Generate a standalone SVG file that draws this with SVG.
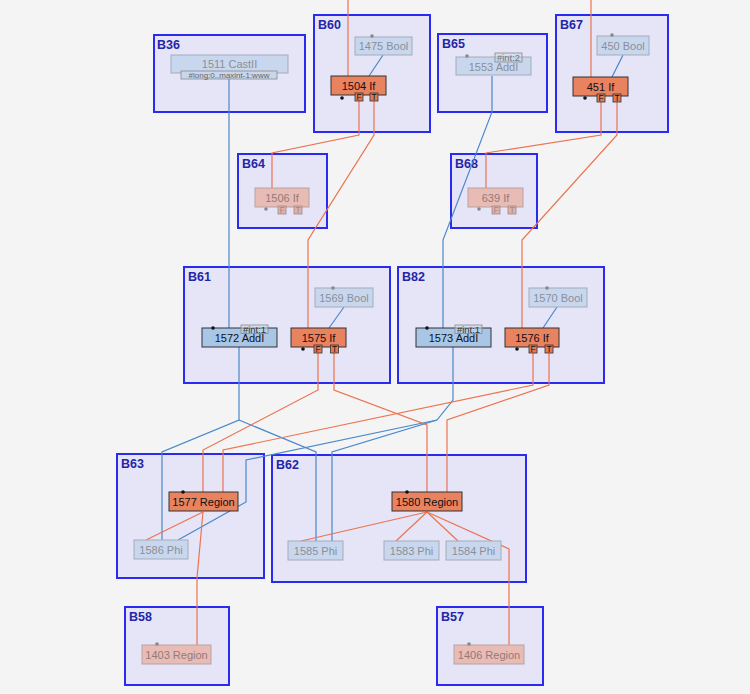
<svg xmlns="http://www.w3.org/2000/svg" width="750" height="694" viewBox="0 0 750 694">
<style>
.blk{fill:#e5e5f7;stroke:#2a2af0;stroke-width:2}
.bl{font-family:"Liberation Sans",Arial,sans-serif;font-weight:bold;font-size:12.5px;fill:#2525a8}
.t{font-family:"Liberation Sans",Arial,sans-serif;font-size:11px;text-anchor:middle}
.on{fill:#e9825f;stroke:#333;stroke-width:1}
.ab{fill:#a9c6e6;stroke:#333;stroke-width:1}
.fb{fill:#c9d7ee;stroke:#a3abba;stroke-width:1}
.fo{fill:#e8bcb5;stroke:#b5a3a3;stroke-width:1}
.dk{fill:#111}
.gy{fill:#888}
.ft{fill:#8a8f99}
.fto{fill:#927a78}
.p{fill:#e07a55;stroke:#333;stroke-width:0.8}
.pf{fill:#e2b0a6;stroke:#a08888;stroke-width:0.8}
.pt{font-family:"Liberation Sans",Arial,sans-serif;font-size:8.5px;text-anchor:middle;fill:#111}
.ptf{font-family:"Liberation Sans",Arial,sans-serif;font-size:8.5px;text-anchor:middle;fill:#9a8a88}
.tag{fill:#c9d7ee;stroke:#888;stroke-width:0.8}
.tt{font-family:"Liberation Sans",Arial,sans-serif;font-size:8px;text-anchor:middle;fill:#666}
.tg{font-family:"Liberation Sans",Arial,sans-serif;font-size:9.5px;text-anchor:middle}
.eo{fill:none;stroke:#ec7350;stroke-width:1.2}
.eb{fill:none;stroke:#4a88cc;stroke-width:1.2}
</style>
<rect width="750" height="694" fill="#f4f4f4"/>

<g id="B36"><rect class="blk" x="154" y="35" width="151" height="77"/><text class="bl" x="157" y="49">B36</text></g>
<g id="B60"><rect class="blk" x="314" y="15" width="116" height="117"/><text class="bl" x="318" y="29">B60</text></g>
<g id="B65"><rect class="blk" x="438" y="34" width="109" height="78"/><text class="bl" x="442" y="48">B65</text></g>
<g id="B67"><rect class="blk" x="556" y="15" width="112" height="117"/><text class="bl" x="560" y="29">B67</text></g>
<g id="B64"><rect class="blk" x="238" y="154" width="89" height="74"/><text class="bl" x="242" y="168">B64</text></g>
<g id="B68"><rect class="blk" x="451" y="154" width="86" height="74"/><text class="bl" x="455" y="168">B68</text></g>
<g id="B61"><rect class="blk" x="184" y="267" width="206" height="116"/><text class="bl" x="188" y="281">B61</text></g>
<g id="B82"><rect class="blk" x="398" y="267" width="206" height="116"/><text class="bl" x="402" y="281">B82</text></g>
<g id="B63"><rect class="blk" x="117" y="454" width="147" height="124"/><text class="bl" x="121" y="468">B63</text></g>
<g id="B62"><rect class="blk" x="272" y="455" width="254" height="127"/><text class="bl" x="276" y="469">B62</text></g>
<g id="B58"><rect class="blk" x="125" y="607" width="104" height="78"/><text class="bl" x="129" y="621">B58</text></g>
<g id="B57"><rect class="blk" x="437" y="607" width="106" height="78"/><text class="bl" x="441" y="621">B57</text></g>

<g id="connectors">
<polyline class="eo" points="348,0 348,76"/>
<polyline class="eo" points="591,0 591,77"/>
<line class="eb" x1="383" y1="55" x2="369" y2="76"/>
<line class="eb" x1="623" y1="55" x2="612" y2="77"/>
<polyline class="eo" points="359,101 359,135 272,153 272,188"/>
<polyline class="eo" points="374,101 374,135 308,240 308,328"/>
<polyline class="eo" points="601,102 601,135 486,153 486,188"/>
<polyline class="eo" points="617,102 617,135 522,240 522,328"/>
<polyline class="eb" points="229,73 229,328"/>
<polyline class="eb" points="492,76 492,112 443,240 443,328"/>
<line class="eb" x1="344" y1="307" x2="329" y2="328"/>
<line class="eb" x1="557" y1="307" x2="543" y2="328"/>
<polyline class="eb" points="239,347 239,420 162,452 162,540"/>
<polyline class="eb" points="239,420 316,452 316,541"/>
<polyline class="eb" points="453,347 453,400 437,420 332,452 332,541"/>
<polyline class="eb" points="437,420 246,460 246,502 178,540"/>
<polyline class="eo" points="318,353 318,390 203,450 203,492"/>
<polyline class="eo" points="334,353 334,390 427,425 427,492"/>
<polyline class="eo" points="533,353 533,385 223,450 223,492"/>
<polyline class="eo" points="549,353 549,385 447,420 447,492"/>
<polyline class="eo" points="203,512 146,540"/>
<polyline class="eo" points="203,512 197,578 197,645"/>
<polyline class="eo" points="427,512 301,541"/>
<polyline class="eo" points="427,512 396,541"/>
<polyline class="eo" points="427,512 458,541"/>
<polyline class="eo" points="427,512 509,549 509,645"/>
</g>

<g id="n1511"><rect class="fb" x="171" y="55" width="117" height="18"/><text class="t ft" x="229.5" y="68">1511 CastII</text>
<rect class="tag" x="181" y="71" width="96" height="8"/><text class="tt" x="229" y="78">#long:0..maxint-1:www</text></g>
<g id="n1475"><rect class="fb" x="355" y="37" width="57" height="18"/><text class="t ft" x="383.5" y="50">1475 Bool</text><circle class="gy" cx="372" cy="36" r="1.8"/></g>
<g id="n1504"><rect class="on" x="331" y="76" width="55" height="19"/><text class="t dk" x="358.5" y="89.5">1504 If</text><circle class="dk" cx="342" cy="98" r="1.8"/>
<rect class="p" x="355" y="93" width="8" height="8"/><text class="pt" x="359" y="100">F</text><rect class="p" x="370" y="93" width="8" height="8"/><text class="pt" x="374" y="100">T</text></g>
<g id="n1553"><rect class="fb" x="456" y="57" width="75" height="18"/><text class="t ft" x="493.5" y="70.5">1553 AddI</text><circle class="gy" cx="467" cy="56" r="1.8"/>
<rect class="tag" x="495" y="53" width="27" height="9" fill-opacity="0.5"/><text class="tg" x="508.5" y="61" fill="#777">#int:2</text></g>
<g id="n450"><rect class="fb" x="597" y="36" width="52" height="19"/><text class="t ft" x="623" y="49.5">450 Bool</text><circle class="gy" cx="612" cy="35" r="1.8"/></g>
<g id="n451"><rect class="on" x="573" y="77" width="55" height="19"/><text class="t dk" x="600.5" y="90.5">451 If</text><circle class="dk" cx="585" cy="98" r="1.8"/>
<rect class="p" x="597" y="94" width="8" height="8"/><text class="pt" x="601" y="101">F</text><rect class="p" x="613" y="94" width="8" height="8"/><text class="pt" x="617" y="101">T</text></g>
<g id="n1506"><rect class="fo" x="255" y="188" width="54" height="19"/><text class="t fto" x="282" y="201.5">1506 If</text><circle class="gy" cx="266" cy="209" r="1.8"/>
<rect class="pf" x="278" y="206" width="8" height="8"/><text class="ptf" x="282" y="213">F</text><rect class="pf" x="294" y="206" width="8" height="8"/><text class="ptf" x="298" y="213">T</text></g>
<g id="n639"><rect class="fo" x="468" y="188" width="55" height="19"/><text class="t fto" x="495.5" y="201.5">639 If</text><circle class="gy" cx="479" cy="209" r="1.8"/>
<rect class="pf" x="492" y="206" width="8" height="8"/><text class="ptf" x="496" y="213">F</text><rect class="pf" x="508" y="206" width="8" height="8"/><text class="ptf" x="512" y="213">T</text></g>
<g id="n1569"><rect class="fb" x="315" y="288" width="58" height="19"/><text class="t ft" x="344" y="301.5">1569 Bool</text><circle class="gy" cx="333" cy="288" r="1.8"/></g>
<g id="n1572"><rect class="ab" x="202" y="328" width="75" height="19"/><text class="t dk" x="239.5" y="341.5">1572 AddI</text><circle class="dk" cx="213" cy="328" r="1.8"/>
<rect class="tag" x="241" y="325" width="27" height="8.5" fill-opacity="0.5"/><text class="tg" x="254.5" y="332.5" fill="#333">#int:1</text></g>
<g id="n1575"><rect class="on" x="291" y="328" width="55" height="19"/><text class="t dk" x="318.5" y="341.5">1575 If</text><circle class="dk" cx="303" cy="349" r="1.8"/>
<rect class="p" x="314" y="345" width="8" height="8"/><text class="pt" x="318" y="352">F</text><rect class="p" x="330.5" y="345" width="8" height="8"/><text class="pt" x="334.5" y="352">T</text></g>
<g id="n1570"><rect class="fb" x="529" y="288" width="58" height="19"/><text class="t ft" x="558" y="301.5">1570 Bool</text><circle class="gy" cx="547" cy="288" r="1.8"/></g>
<g id="n1573"><rect class="ab" x="416" y="328" width="75" height="19"/><text class="t dk" x="453.5" y="341.5">1573 AddI</text><circle class="dk" cx="427" cy="328" r="1.8"/>
<rect class="tag" x="455" y="325" width="27" height="8.5" fill-opacity="0.5"/><text class="tg" x="468.5" y="332.5" fill="#333">#int:1</text></g>
<g id="n1576"><rect class="on" x="505" y="328" width="54" height="19"/><text class="t dk" x="532" y="341.5">1576 If</text><circle class="dk" cx="517" cy="349" r="1.8"/>
<rect class="p" x="529" y="345" width="8" height="8"/><text class="pt" x="533" y="352">F</text><rect class="p" x="545" y="345" width="8" height="8"/><text class="pt" x="549" y="352">T</text></g>
<g id="n1577"><rect class="on" x="169" y="492" width="69" height="19"/><text class="t dk" x="203.5" y="505.5">1577 Region</text><circle class="dk" cx="183" cy="492" r="1.8"/></g>
<g id="n1586"><rect class="fb" x="134" y="540" width="54" height="19"/><text class="t ft" x="161" y="553.5">1586 Phi</text></g>
<g id="n1580"><rect class="on" x="392" y="492" width="70" height="19"/><text class="t dk" x="427" y="505.5">1580 Region</text><circle class="dk" cx="407" cy="492" r="1.8"/></g>
<g id="n1585"><rect class="fb" x="288" y="541" width="55" height="19"/><text class="t ft" x="315.5" y="554.5">1585 Phi</text></g>
<g id="n1583"><rect class="fb" x="384" y="541" width="55" height="19"/><text class="t ft" x="411.5" y="554.5">1583 Phi</text></g>
<g id="n1584"><rect class="fb" x="446" y="541" width="55" height="19"/><text class="t ft" x="473.5" y="554.5">1584 Phi</text></g>
<g id="n1403"><rect class="fo" x="142" y="645" width="69" height="19"/><text class="t fto" x="176.5" y="658.5">1403 Region</text><circle class="gy" cx="157" cy="644" r="1.8"/></g>
<g id="n1406"><rect class="fo" x="454" y="645" width="70" height="19"/><text class="t fto" x="489" y="658.5">1406 Region</text><circle class="gy" cx="469" cy="644" r="1.8"/></g>
</svg>
